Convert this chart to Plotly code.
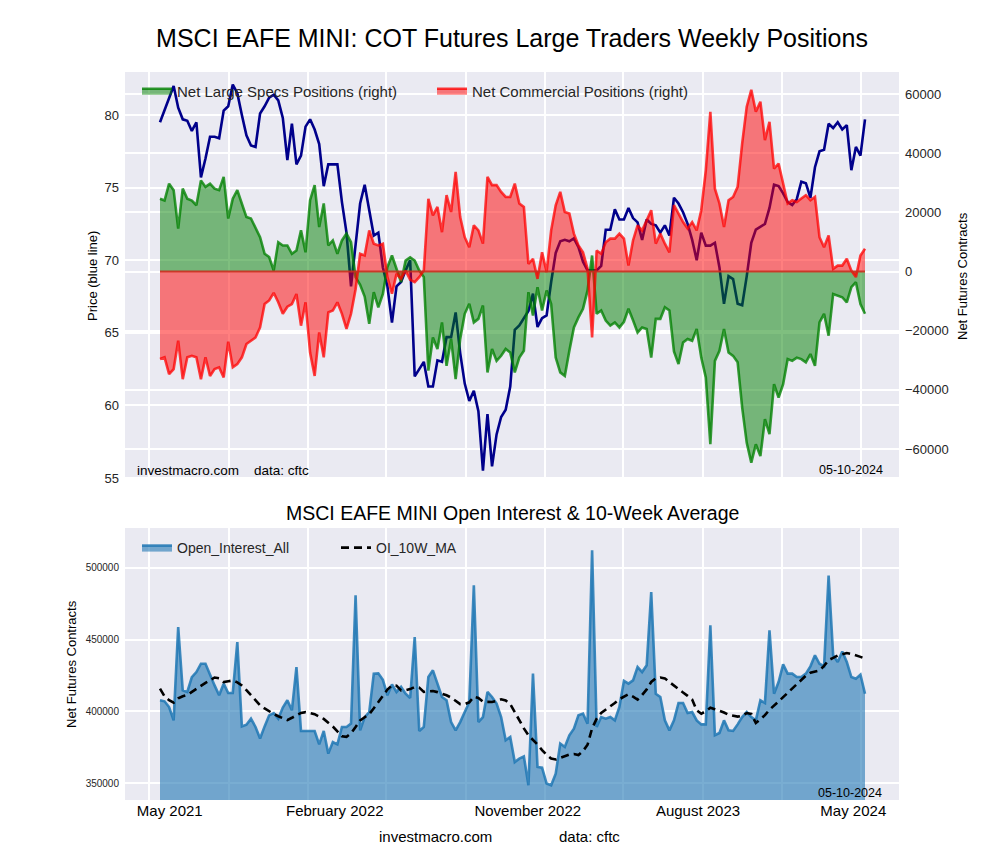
import pandas as pd
import plotly.graph_objects as go

# ---------------- data ----------------
dates = pd.date_range("2021-05-18", periods=156, freq="7D")

price = [79.5, 80.3, 81.2, 82.0, 80.5, 79.7, 79.6, 78.9, 79.5, 75.7,
         77.0, 78.5, 78.5, 78.4, 80.3, 80.6, 82.1, 81.5, 80.0, 78.6,
         77.9, 77.8, 80.1, 80.6, 81.2, 81.4, 81.0, 79.8, 76.9, 79.4,
         76.6, 77.2, 79.2, 79.7, 79.0, 78.0, 75.1, 76.6, 76.6, 76.6,
         74.0, 71.9, 68.2, 71.0, 73.9, 75.2, 73.5, 71.7, 71.9, 69.5,
         68.2, 65.7, 68.2, 68.5, 69.3, 70.0, 62.0, 62.5, 63.0, 61.3,
         61.3, 63.1, 63.0, 64.7, 64.7, 66.4, 63.6, 61.5, 60.3, 61.0,
         59.6, 55.5, 59.4, 55.8, 58.0, 59.2, 59.7, 61.3, 65.2, 65.5,
         66.0, 66.5, 67.7, 65.4, 66.0, 66.2, 68.5, 70.5, 71.3, 71.4,
         71.3, 71.5, 70.9, 69.9, 69.3, 69.3, 69.3, 69.6, 72.1, 72.1,
         73.5, 72.8, 72.8, 73.6, 72.9, 72.6, 71.4, 72.8, 72.5, 72.4,
         71.9, 72.4, 71.7, 74.3, 73.9, 73.3, 72.5, 71.4, 70.0, 71.9,
         71.0, 71.0, 71.2, 69.5, 67.0, 68.9, 68.7, 67.0, 66.9, 68.9,
         71.2, 72.1, 72.3, 72.5, 73.6, 75.2, 75.1, 74.6, 74.0, 73.8,
         74.2, 75.4, 75.3, 74.3, 76.4, 77.5, 77.6, 79.4, 79.1, 79.5,
         79.0, 79.3, 76.2, 77.8, 77.2, 79.7]

net_large_specs = [
    24600, 24000, 29700, 27500, 14500, 28000, 24600, 24000, 22400, 30800,
    28600, 29700, 28000, 27500, 32000, 17900, 24600, 27500, 22900, 18400,
    17900, 15000, 11600, 6000, 4900, 300, 9900, 8800, 8800, 6000,
    7100, 13900, 6500, 24100, 29200, 15000, 23000, 8800, 10500, 6000,
    10500, 12800, 9900, -1900, -4500, -8500, -17700, -7000, -12100, -7600,
    1500, 5400, 900, -3600, 3700, 4800, 3700, 300, -1900, -33500,
    -22300, -26200, -17200, -31900, -22800, -36400, -22800, -14300, -10900, -17200,
    -16000, -11500, -34100, -26200, -30200, -28500, -26200, -27400, -34100, -29100,
    -26800, -7000, -14900, -5300, -13200, -6400, -11000, -29100, -34100, -35300,
    -26800, -18900, -15500, -12600, -6400, 5400, -14300, -13200, -16600, -18300,
    -17200, -18900, -17000, -12600, -16500, -20600, -18900, -19400, -29100, -16000,
    -16000, -12100, -13200, -27000, -31300, -24000, -22800, -23400, -19400, -29100,
    -35800, -58400, -30200, -26800, -19400, -27400, -28500, -30700, -46000, -57900,
    -64600, -58400, -62400, -49900, -55000, -38100, -42600, -38100, -29600, -30200,
    -29100, -29600, -30700, -27900, -31900, -17200, -14300, -21700, -7600, -8100,
    -8700, -10400, -5300, -3600, -11000, -14300]

net_commercial = [
    -29600, -29000, -34700, -33000, -23400, -36400, -29000, -28500, -29000, -36400,
    -29000, -35300, -33000, -32400, -35800, -23700, -32400, -31300, -29000, -24500,
    -23400, -22300, -18900, -11000, -9800, -7200, -10400, -14300, -11900, -11000,
    -7600, -18300, -10400, -27400, -35300, -20600, -29000, -13800, -13200, -10400,
    -14300, -19400, -14300, -6000, 6000, 5400, 13900, 9400, 8800, 9400,
    -1900, -7500, -800, -2500, 300, -2800, -3600, -1900, 300, 24600,
    19000, 21800, 13300, 25800, 20100, 33700, 18400, 11600, 8200, 15600,
    13900, 9400, 32000, 29200, 29200, 26900, 25200, 25200, 29700, 23000,
    21800, 2600, 4300, -2500, 6500, -200, 13900, 22400, 26900, 20100,
    19600, 12800, 8800, 6500, 900, -22300, 7100, 6000, 9900, 11100,
    11100, 12800, 11100, 2000, 10500, 15600, 13900, 17300, 20700, 9400,
    12800, 9400, 6500, 22400, 19600, 16700, 14500, 16700, 13900, 20700,
    34200, 54000, 28000, 23000, 15000, 24100, 25200, 28600, 43300, 55700,
    61400, 54000, 57400, 44400, 50600, 34800, 36500, 29200, 23000, 24100,
    23500, 24700, 25800, 24100, 25200, 11600, 8200, 12200, 900, 2000,
    2000, 4300, 300, -1900, 5400, 7700]

open_interest = [
    407700, 407000, 403000, 393700, 458800, 414600, 413500, 423900, 427400, 433200,
    433200, 425100, 418100, 411200, 419300, 412800, 412800, 448300, 389500, 390700,
    394900, 389100, 381000, 389500, 397200, 398800, 394900, 402600, 407700, 400700,
    430900, 386300, 386300, 386300, 386300, 377000, 386300, 370500, 378600, 377000,
    389100, 389100, 391400, 480900, 386700, 396000, 399500, 426300, 426500, 422000,
    411200, 418800, 413500, 417000, 412300, 409300, 451800, 386300, 389100, 423900,
    428600, 419300, 410000, 407700, 392500, 386700, 392500, 399500, 406500, 487900,
    392500, 396000, 413500, 410000, 405400, 396000, 379800, 382100, 364600, 367000,
    368600, 348400, 426300, 361200, 360700, 349600, 348400, 356500, 377500, 375100,
    383300, 387900, 397200, 398400, 391400, 512300, 389100, 396000, 394900, 396000,
    393700, 403000, 421200, 419300, 421600, 430900, 427400, 432100, 483200, 412300,
    410000, 393700, 386700, 393700, 405800, 405800, 398800, 399500, 393700, 390900,
    390900, 460000, 383300, 384900, 393700, 386700, 386300, 390900, 396000, 399500,
    396000, 393700, 407700, 405800, 456500, 412300, 420400, 432800, 426300, 426300,
    423900, 423900, 426300, 431400, 439100, 433200, 431400, 494800, 439100, 434400,
    441800, 434400, 423900, 422800, 425600, 412300]

oi_10w_ma = [
    415800, 410500, 407800, 406000, 409000, 410500, 411400, 413600, 415700, 417800,
    419900, 421700, 423600, 423000, 420400, 421000, 421500, 420200, 418000, 414800,
    411500, 407800, 404200, 402000, 399900, 398200, 396600, 395000, 393900, 395500,
    397300, 398900, 399400, 398900, 398000, 396300, 394700, 392000, 389400, 386000,
    382600, 382200, 384600, 389000, 393700, 395900, 398000, 402100, 406500, 411300,
    415200, 418100, 417900, 414600, 414700, 415500, 417000, 416500, 413500, 413900,
    414200, 413400, 412500, 411200, 409600, 407600, 405000, 405000, 406300, 410100,
    409300, 406700, 406500, 406500, 407300, 408400, 407600, 405000, 399500, 393700,
    388100, 383300, 380300, 376800, 373000, 369600, 367000, 366400, 367500, 368600,
    369800, 370200, 369500, 372300, 376700, 388100, 394900, 398900, 401000, 403200,
    405800, 408500, 410200, 411900, 410200, 408200, 411400, 415300, 420500, 423100,
    423600, 423000, 420400, 417800, 415400, 413100, 410800, 408200, 400700, 398300,
    400100, 402500, 401500, 400400, 399200, 397600, 396800, 396300, 396900, 398800,
    398200, 391800, 394400, 397300, 401100, 404300, 406900, 409900, 413000, 416100,
    419400, 422500, 424900, 426900, 427900, 428500, 431700, 435700, 437300, 438900,
    439800, 440700, 440000, 439200, 438000, 436800]

price_ticks = [55, 60, 65, 70, 75, 80]
net_ticks = [-60000, -40000, -20000, 0, 20000, 40000, 60000]
oi_ticks = [350000, 400000, 450000, 500000]
x_label_dates = ["2021-06-02", "2022-02-11", "2022-12-05", "2023-08-24", "2024-04-19"]
x_label_text = ["May 2021", "February 2022", "November 2022", "August 2023", "May 2024"]

# ---------------- layout helpers ----------------
W, H = 1000, 860
FONT = "Liberation Sans, Arial, sans-serif"
TICKC = "#262626"


def fx(p):
    return p / W


def fy(p):
    return 1 - p / H


grid_dates = pd.date_range("2021-05-01", "2024-05-01", freq="4MS")
px_per_day = 4.548 / 7
x_start = dates[0] - pd.Timedelta(days=35 / px_per_day)
x_end = dates[-1] + pd.Timedelta(days=34 / px_per_day)

fig = go.Figure()

# price (left axis) - drawn below the fills
fig.add_trace(go.Scatter(x=dates, y=price, mode="lines", xaxis="x", yaxis="y",
                         line=dict(color="#00008B", width=2.6), showlegend=False,
                         name="Price"))

fig.add_trace(go.Scatter(x=dates, y=net_large_specs, mode="lines", xaxis="x", yaxis="y2",
                         fill="tozeroy", fillcolor="rgba(0,128,0,0.5)",
                         line=dict(color="rgba(0,128,0,0.78)", width=2.6),
                         name="Net Large Specs Positions (right)", legend="legend"))
fig.add_trace(go.Scatter(x=dates, y=net_commercial, mode="lines", xaxis="x", yaxis="y2",
                         fill="tozeroy", fillcolor="rgba(255,0,0,0.5)",
                         line=dict(color="rgba(255,0,0,0.75)", width=2.6),
                         name="Net Commercial Positions (right)", legend="legend"))

fig.add_trace(go.Scatter(x=dates, y=open_interest, mode="lines", xaxis="x2", yaxis="y3",
                         fill="tozeroy", fillcolor="rgba(31,119,180,0.6)",
                         line=dict(color="rgba(31,119,180,0.85)", width=2.6),
                         name="Open_Interest_All", legend="legend2"))
fig.add_trace(go.Scatter(x=dates, y=oi_10w_ma, mode="lines", xaxis="x2", yaxis="y3",
                         line=dict(color="black", width=2.6, dash="8px,5px"),
                         name="OI_10W_MA", legend="legend2"))

top_dom = [fy(479), fy(72)]
bot_dom = [fy(800), fy(528)]
xdom = [fx(125), fx(899)]

axis_common = dict(showline=False, zeroline=False, gridcolor="white", gridwidth=2,
                   ticks="", automargin=False,
                   tickfont=dict(family=FONT, size=13, color=TICKC))

fig.update_layout(
    width=W, height=H, autosize=False,
    margin=dict(l=0, r=0, t=0, b=0, pad=0, autoexpand=False),
    paper_bgcolor="white", plot_bgcolor="#EAEAF2",
    font=dict(family=FONT, color=TICKC),
    title=dict(text="MSCI EAFE MINI: COT Futures Large Traders Weekly Positions",
               x=0.512, xanchor="center", y=fy(38), yanchor="middle",
               font=dict(family=FONT, size=25, color="black")),
    xaxis=dict(domain=xdom, anchor="y", type="date", range=[x_start, x_end],
               tickmode="array", tickvals=grid_dates, showticklabels=False,
               **{k: v for k, v in axis_common.items() if k != "tickfont"}),
    yaxis=dict(domain=top_dom, anchor="x", range=[54.93, 82.96],
               tickmode="array", tickvals=price_ticks,
               ticklabelstandoff=5, **axis_common),
    yaxis2=dict(overlaying="y", side="right", anchor="x", range=[-70135, 67430],
                tickmode="array", tickvals=net_ticks,
                ticktext=[str(v).replace("-", "\u2212") for v in net_ticks],
                ticklabelstandoff=5, **axis_common),
    xaxis2=dict(domain=xdom, anchor="y3", type="date", range=[x_start, x_end],
                tickmode="array", tickvals=x_label_dates, ticktext=x_label_text,
                showgrid=False, showline=False, zeroline=False, ticks="", automargin=False,
                tickfont=dict(family=FONT, size=15, color="black"),
                minor=dict(tickmode="array", tickvals=grid_dates, showgrid=True,
                           gridcolor="white", gridwidth=2, ticks="")),
    yaxis3=dict(domain=bot_dom, anchor="x2", range=[338140, 527900],
                tickmode="array", tickvals=oi_ticks,
                ticktext=[str(v) for v in oi_ticks],
                ticklabelstandoff=5, automargin=False,
                showline=False, zeroline=False, gridcolor="white", gridwidth=2, ticks="",
                tickfont=dict(family=FONT, size=10, color=TICKC)),
    legend=dict(orientation="h", x=fx(137), xanchor="left", y=fy(91), yanchor="middle",
                bgcolor="rgba(0,0,0,0)", font=dict(family=FONT, size=15, color=TICKC),
                entrywidth=250, entrywidthmode="pixels"),
    legend2=dict(orientation="h", x=fx(137), xanchor="left", y=fy(548), yanchor="middle",
                 bgcolor="rgba(0,0,0,0)", font=dict(family=FONT, size=14, color=TICKC),
                 entrywidth=154, entrywidthmode="pixels"),
)

# zero line along the fill edges
fig.add_shape(type="line", xref="x", yref="y2", x0=dates[0], x1=dates[-1], y0=0, y1=0,
              line=dict(color="rgba(200,45,30,0.9)", width=2), layer="above")

ann = [
    dict(text="investmacro.com", x=fx(135), y=fy(470), xanchor="left", size=13.5),
    dict(text="data: cftc", x=fx(252), y=fy(470), xanchor="left", size=13.5),
    dict(text="05-10-2024", x=fx(885), y=fy(470), xanchor="right", size=12.5),
    dict(text="05-10-2024", x=fx(884), y=fy(793), xanchor="right", size=12.5),
    dict(text="MSCI EAFE MINI Open Interest & 10-Week Average", x=fx(512), y=fy(513),
         xanchor="center", size=19.5, color="black"),
    dict(text="investmacro.com", x=fx(435), y=fy(836), xanchor="center", size=15, color="black"),
    dict(text="data: cftc", x=fx(589), y=fy(836), xanchor="center", size=15, color="black"),
]
for a in ann:
    fig.add_annotation(text=a["text"], xref="paper", yref="paper", x=a["x"], y=a["y"],
                       xanchor=a["xanchor"], yanchor="middle", showarrow=False,
                       font=dict(family=FONT, size=a["size"], color=a.get("color", "black")))

for txt, x, y in [("Price (blue line)", 92, 276), ("Net Futures Contracts", 962, 276),
                  ("Net Futures Contracts", 71, 664)]:
    fig.add_annotation(text=txt, xref="paper", yref="paper", x=fx(x), y=fy(y),
                       xanchor="center", yanchor="middle", textangle=-90, showarrow=False,
                       font=dict(family=FONT, size=13, color="black"))

fig.write_html("out.html", config={"displayModeBar": False, "responsive": False},
               post_script="document.body.style.margin='0px';")
